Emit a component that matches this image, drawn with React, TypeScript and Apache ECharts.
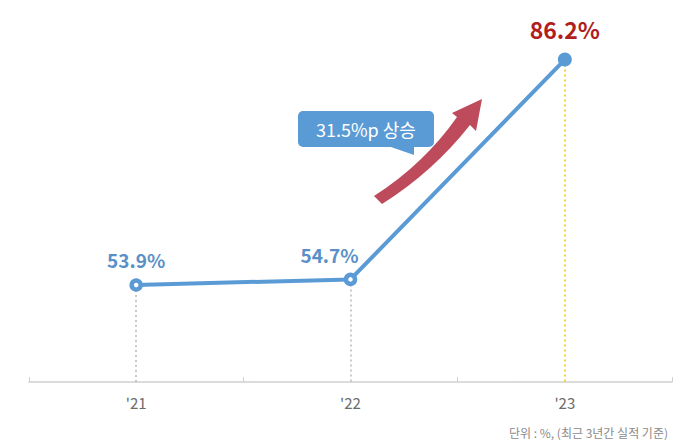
import React, { useEffect, useRef } from "react";
import * as echarts from "echarts";

const categories = ["'21", "'22", "'23"];
const values = [53.9, 54.7, 86.2];
const labels = ["53.9%", "54.7%", "86.2%"];
const calloutText = "31.5%p 상승";
const footerText = "단위 : %, (최근 3년간 실적 기준)";

const BLUE = "#5b9bd5";
const FONT = "'Noto Sans CJK KR', 'Noto Sans', sans-serif";

echarts.graphic.registerShape(
  "upArrow",
  (echarts.graphic as any).extendPath(
    "M374 196 Q424 164 457 117 L452 113 L482 99 L476 131 L470 125 Q433 172 382 204 Z",
    {}
  )
);

export default function App() {
  const ref = useRef<HTMLDivElement>(null);
  useEffect(() => {
    document.body.style.margin = "0";
    const chart = echarts.init(ref.current!, undefined, { renderer: "svg" });
    const dotColors = ["#b8b8b8", "#b8b8b8", "#f2c200"];
    chart.setOption({
      animation: false,
      textStyle: { fontFamily: FONT },
      grid: { left: 29, right: 28, top: 33, bottom: 58 },
      xAxis: {
        type: "category",
        data: categories,
        boundaryGap: true,
        axisLine: { lineStyle: { color: "#d0d0d0", width: 1.5 } },
        axisTick: { show: true, inside: true, length: 5, lineStyle: { color: "#d0d0d0" } },
        axisLabel: { color: "#6b6b6b", fontSize: 15, margin: 13, fontFamily: FONT },
      },
      yAxis: {
        type: "value",
        min: 40,
        max: 90,
        show: false,
        splitLine: { show: false },
      },
      series: [
        {
          type: "line",
          data: values.map((v, i) => ({
            value: v,
            symbolSize: i === 2 ? 14 : 9,
            itemStyle:
              i === 2
                ? { color: BLUE, borderColor: BLUE, borderWidth: 0 }
                : { color: "#ffffff", borderColor: BLUE, borderWidth: 4.5 },
            label: {
              show: true,
              position: "top",
              formatter: labels[i],
              fontFamily: FONT,
              fontWeight: "bold",
              fontSize: i === 2 ? 23 : 19,
              color: i === 2 ? "#b01e1e" : "#5a90c8",
              distance: i === 2 ? 12 : 9,
              offset: i === 1 ? [-21, 0] : [0, 0],
            },
          })),
          symbol: "circle",
          lineStyle: { color: BLUE, width: 4 },
          z: 5,
          markLine: {
            silent: true,
            symbol: "none",
            label: { show: false },
            data: values.map((v, i) => [
              { coord: [i, v], lineStyle: { color: dotColors[i], type: [2, 3], width: 1.5 } },
              { coord: [i, 40] },
            ]),
          },
        },
      ],
      graphic: [
        {
          type: "upArrow",
          shape: {},
          style: { fill: "#bd4b5b" },
          z: 10,
        },
        {
          type: "rect",
          shape: { x: 298, y: 111, width: 136, height: 36, r: 5 },
          style: { fill: BLUE },
          z: 11,
        },
        {
          type: "polygon",
          shape: { points: [[388, 146], [414, 146], [414, 155]] },
          style: { fill: BLUE },
          z: 11,
        },
        {
          type: "text",
          x: 366,
          y: 129,
          style: {
            text: calloutText,
            fill: "#ffffff",
            fontSize: 18,
            fontFamily: FONT,
            align: "center",
            verticalAlign: "middle",
          },
          z: 12,
        },
        {
          type: "text",
          x: 668,
          y: 432,
          style: {
            text: footerText,
            fill: "#8a8a8a",
            fontSize: 12,
            fontFamily: FONT,
            align: "right",
            verticalAlign: "middle",
          },
          z: 12,
        },
      ],
    });
    return () => chart.dispose();
  }, []);
  return <div ref={ref} style={{ width: 700, height: 440 }} />;
}
